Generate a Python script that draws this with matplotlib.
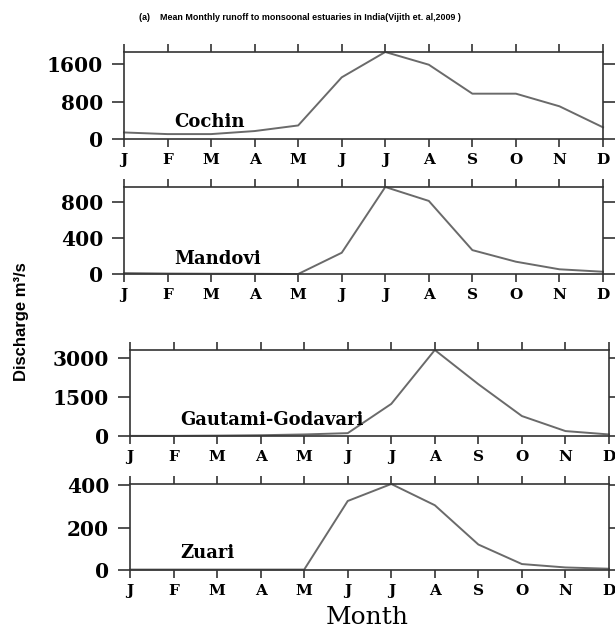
import matplotlib
matplotlib.use("Agg")
import matplotlib.pyplot as plt

months = ["J", "F", "M", "A", "M", "J", "J", "A", "S", "O", "N", "D"]

cochin = [140, 105, 105, 170, 290, 1320, 1862, 1590, 970, 970, 700, 250]
mandovi = [10, 5, 3, 2, 0, 235, 962, 808, 264, 136, 52, 25]
godavari = [5, 5, 15, 30, 60, 110, 1240, 3320, 2000, 770, 190, 60]
zuari = [2, 2, 2, 2, 2, 325, 405, 305, 120, 28, 12, 6]

names = ["Cochin", "Mandovi", "Gautami-Godavari", "Zuari"]
series = [cochin, mandovi, godavari, zuari]
yticks = [[0, 800, 1600], [0, 400, 800], [0, 1500, 3000], [0, 200, 400]]

W, H = 615, 631
# panel boxes in pixels: left, top, right, bottom
boxes = [(124, 52, 603, 139), (124, 187, 603, 274),
         (130, 350, 609, 436), (130, 484, 609, 570)]
label_y = [0.2, 0.17, 0.19, 0.2]

serif = "DejaVu Serif"
frame_c = "#333333"
line_c = "#6a6a6a"

fig = plt.figure(figsize=(W / 100, H / 100), dpi=100)

for i, (l, t, r, b) in enumerate(boxes):
    ax = fig.add_axes([l / W, 1 - b / H, (r - l) / W, (b - t) / H])
    x = list(range(len(months)))
    ax.plot(x, series[i], color=line_c, lw=1.4, clip_on=False)
    ax.set_xlim(0, 11)
    ax.set_ylim(0, max(series[i]))
    ax.set_xticks(x)
    ax.set_xticklabels(months)
    ax.set_yticks(yticks[i])
    ax.set_yticklabels([str(v) for v in yticks[i]])
    for s in ax.spines.values():
        s.set_color(frame_c)
        s.set_linewidth(1.2)
    ax.tick_params(axis="x", which="both", top=True, bottom=True, direction="out",
                   length=6, width=1.2, color=frame_c, pad=4)
    ax.tick_params(axis="y", which="both", left=True, right=True, direction="out",
                   length=9, width=1.2, color=frame_c, pad=6)
    for lab in ax.get_xticklabels():
        lab.set_fontfamily(serif)
        lab.set_fontweight("bold")
        lab.set_fontsize(11)
    for lab in ax.get_yticklabels():
        lab.set_fontfamily(serif)
        lab.set_fontweight("bold")
        lab.set_fontsize(14.5)
    ax.text(1.15, label_y[i], names[i], transform=ax.get_xaxis_transform(),
            fontfamily=serif, fontweight="bold", fontsize=13, va="center", ha="left")

fig.text(300 / W, 1 - 17 / H,
         "(a)    Mean Monthly runoff to monsoonal estuaries in India(Vijith et. al,2009 )",
         ha="center", va="center", fontfamily="Liberation Sans", fontweight="bold", fontsize=6.4)
fig.text(22 / W, 1 - 322 / H, "Discharge m³/s", rotation=90, ha="center", va="center",
         fontfamily="Liberation Sans", fontweight="bold", fontsize=12)
fig.text(367 / W, 1 - 617 / H, "Month", ha="center", va="center",
         fontfamily=serif, fontsize=18)

fig.savefig("out.png", dpi=100)
